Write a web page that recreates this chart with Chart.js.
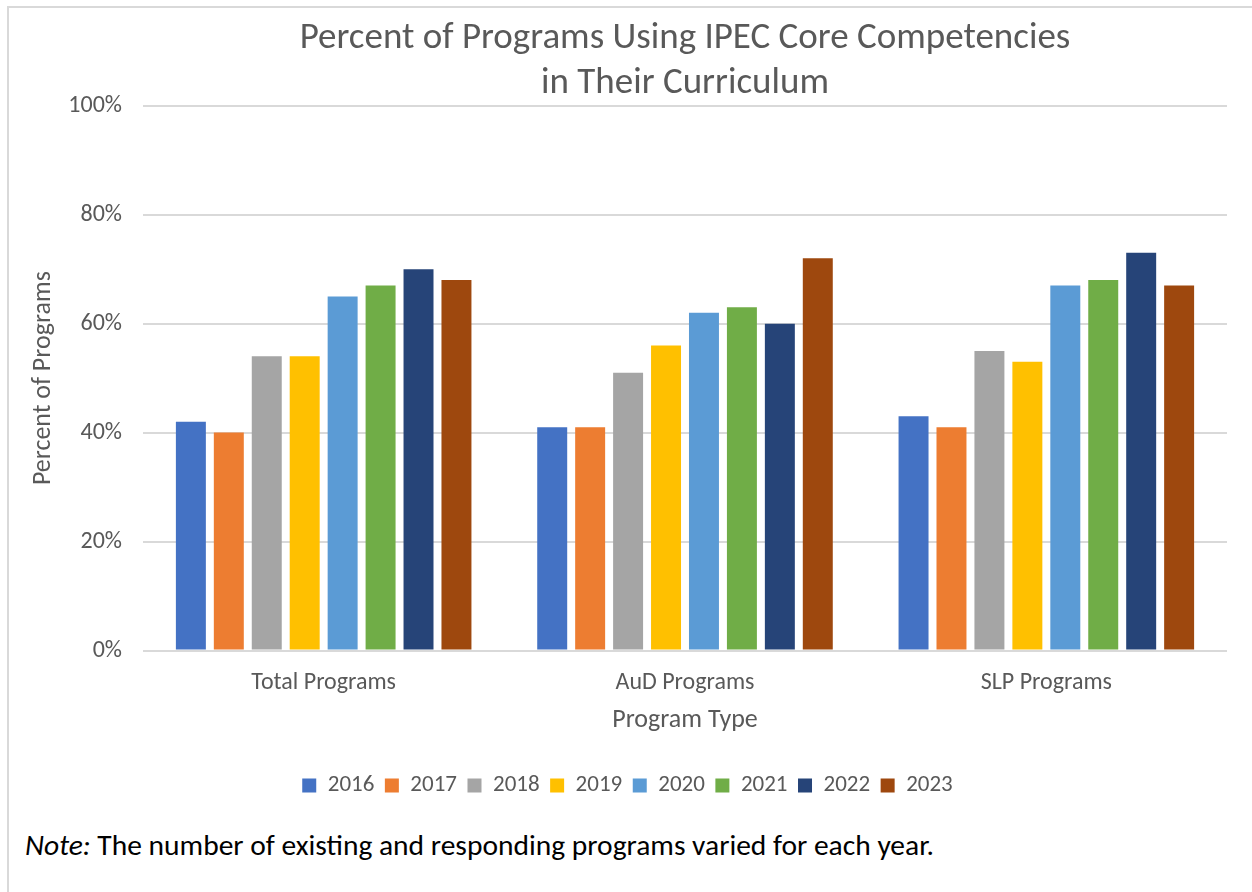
<!DOCTYPE html>
<html>
<head>
<meta charset="utf-8">
<script src="https://cdn.jsdelivr.net/npm/chart.js@4.4.1/dist/chart.umd.min.js"></script>
<style>
    html, body { margin: 0; padding: 0; background: #fff; overflow: hidden; }
    body { width: 1252px; height: 892px; position: relative; }
    #frame {
        position: absolute; left: 7px; top: 6px;
        width: 1300px; height: 920px;
        border: 2px solid #d9d9d9;
        box-sizing: border-box;
    }
    #wrap { position: absolute; left: 0; top: 0; width: 1252px; height: 812px; }
    #note {
        position: absolute; left: 25px; top: 827px;
        font-family: Carlito, Lato, sans-serif;
        font-size: 29.5px; line-height: 36px; color: #000;
        white-space: nowrap;
    }
</style>
</head>
<body>
<div id="frame"></div>
<div id="wrap"><canvas id="chartIpec"></canvas></div>
<div id="note"><i>Note:</i> The number of existing and responding programs varied for each year.</div>

<script>
// chart data
const programTypes = ['Total Programs', 'AuD Programs', 'SLP Programs'];
const years = ['2016', '2017', '2018', '2019', '2020', '2021', '2022', '2023'];
const yearColors = ['#4472C4', '#ED7D31', '#A5A5A5', '#FFC000', '#5B9BD5', '#70AD47', '#264478', '#9E480E'];

// percent per year, one value per program type
const pct2016 = [42, 41, 43];
const pct2017 = [40, 41, 41];
const pct2018 = [54, 51, 55];
const pct2019 = [54, 56, 53];
const pct2020 = [65, 62, 67];
const pct2021 = [67, 63, 68];
const pct2022 = [70, 60, 73];
const pct2023 = [68, 72, 67];

const yTicks = [0, 20, 40, 60, 80, 100];

const seriesValues = [pct2016, pct2017, pct2018, pct2019, pct2020, pct2021, pct2022, pct2023];

const FONT = 'Carlito, Lato, sans-serif';
const GREY = '#595959';
const PAD_LEFT = 28;

const ctx = document.getElementById('chartIpec').getContext('2d');

new Chart(ctx, {
    type: 'bar',
    data: {
        labels: programTypes,
        datasets: years.map((year, i) => ({
            label: year,
            data: seriesValues[i],
            backgroundColor: yearColors[i],
            borderWidth: 0,
            categoryPercentage: 0.84,
            barPercentage: 0.79,
        })),
    },
    options: {
        responsive: true,
        maintainAspectRatio: false,
        animation: false,
        layout: {
            padding: { top: 6, left: PAD_LEFT, right: 25, bottom: 5 },
        },
        plugins: {
            title: {
                display: true,
                text: ['Percent of Programs Using IPEC Core Competencies', 'in Their Curriculum'],
                color: GREY,
                fullSize: false,
                font: { family: FONT, size: 37, weight: 'normal', lineHeight: 1.2 },
                padding: { top: 11, bottom: 0 },
            },
            legend: {
                position: 'bottom',
                labels: {
                    color: GREY,
                    boxWidth: 14,
                    boxHeight: 14,
                    padding: 10.5,
                    font: { family: FONT, size: 23 },
                },
            },
            tooltip: { enabled: false },
        },
        scales: {
            x: {
                grid: { display: false, drawTicks: false },
                border: { display: false },
                ticks: {
                    color: GREY,
                    padding: 18,
                    font: { family: FONT, size: 24 },
                },
                title: {
                    display: true,
                    text: 'Program Type',
                    color: GREY,
                    font: { family: FONT, size: 26 },
                    padding: { top: -10, bottom: 27 },
                },
            },
            y: {
                min: 0,
                max: 100,
                afterBuildTicks: (axis) => {
                    axis.ticks = yTicks.map(v => ({ value: v }));
                },
                afterFit: (axis) => {
                    axis.width = 143 - PAD_LEFT;
                },
                grid: {
                    color: '#d9d9d9',
                    lineWidth: 2,
                    drawTicks: false,
                },
                border: { display: false },
                ticks: {
                    color: GREY,
                    padding: 21,
                    font: { family: FONT, size: 24 },
                    callback: (v) => v + '%',
                },
                title: {
                    display: true,
                    text: 'Percent of Programs',
                    color: GREY,
                    font: { family: FONT, size: 26 },
                    padding: { top: 0, bottom: 0 },
                },
            },
        },
    },
});
</script>
</body>
</html>
